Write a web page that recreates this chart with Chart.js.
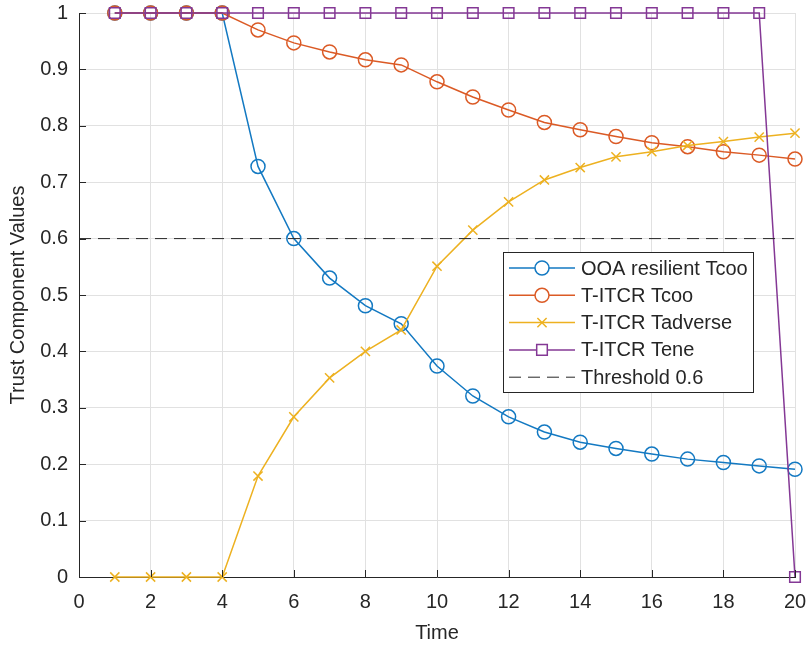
<!DOCTYPE html>
<html>
<head>
<meta charset="utf-8">
<script src="https://cdn.jsdelivr.net/npm/chart.js@4.4.0/dist/chart.umd.min.js"></script>
<style>
  html, body { margin: 0; padding: 0; background: #fff; }
</style>
</head>
<body>
<canvas id="trustChart" width="810" height="645"></canvas>
<script>
// values
const time = [1, 2, 3, 4, 5, 6, 7, 8, 9, 10, 11, 12, 13, 14, 15, 16, 17, 18, 19, 20];
const ooaTcoo = [1, 1, 1, 1, 0.728, 0.600, 0.530, 0.481, 0.449, 0.374, 0.321, 0.284, 0.257, 0.239, 0.228, 0.218, 0.209, 0.203, 0.197, 0.191];
const titcrTcoo = [1, 1, 1, 1, 0.970, 0.947, 0.931, 0.917, 0.908, 0.878, 0.851, 0.828, 0.806, 0.793, 0.781, 0.770, 0.763, 0.754, 0.748, 0.741];
const titcrTadverse = [0, 0, 0, 0, 0.179, 0.284, 0.353, 0.400, 0.438, 0.551, 0.615, 0.665, 0.704, 0.726, 0.745, 0.754, 0.765, 0.772, 0.780, 0.787];
const titcrTene = [1, 1, 1, 1, 1, 1, 1, 1, 1, 1, 1, 1, 1, 1, 1, 1, 1, 1, 1, 0];
const thresholdX = [0, 20];
const thresholdY = [0.6, 0.6];
const xTicks = [0, 2, 4, 6, 8, 10, 12, 14, 16, 18, 20];
const yTicks = [0, 0.1, 0.2, 0.3, 0.4, 0.5, 0.6, 0.7, 0.8, 0.9, 1];

const FONT = "'Liberation Sans', Arial, Helvetica, sans-serif";
const INK = '#262626';

function pts(xs, ys) {
  return xs.map((x, i) => ({ x: x, y: ys[i] }));
}

function series(label, ys, color, style, radius, order) {
  return {
    label: label,
    data: pts(time, ys),
    borderColor: color,
    backgroundColor: 'rgba(0,0,0,0)',
    borderWidth: 1.5,
    pointStyle: style,
    pointRadius: radius,
    pointBorderWidth: 1.5,
    pointBorderColor: color,
    pointBackgroundColor: 'rgba(0,0,0,0)',
    tension: 0,
    clip: false,
    order: order
  };
}

// drop the extra edge padding chart.js adds for tick labels
function noEdgePad(s) {
  s.paddingTop = 0;
  s.paddingBottom = 0;
  s.paddingLeft = 0;
  s.paddingRight = 0;
}

// MATLAB style inward tick marks on the two axes
const innerTicks = {
  id: 'innerTicks',
  afterDraw(chart) {
    const ctx = chart.ctx;
    const xs = chart.scales.x, ys = chart.scales.y;
    const a = chart.chartArea;
    ctx.save();
    ctx.strokeStyle = INK;
    ctx.lineWidth = 1;
    ctx.beginPath();
    xs.ticks.forEach(t => {
      const px = Math.round(xs.getPixelForValue(t.value)) + 0.5;
      ctx.moveTo(px, a.bottom);
      ctx.lineTo(px, a.bottom - 7);
    });
    ys.ticks.forEach(t => {
      const py = Math.round(ys.getPixelForValue(t.value)) + 0.5;
      ctx.moveTo(a.left, py);
      ctx.lineTo(a.left + 7, py);
    });
    ctx.stroke();
    ctx.restore();
  }
};

// legend box inside the axes, like MATLAB's legend
const boxLegend = {
  id: 'boxLegend',
  afterDraw(chart) {
    const ctx = chart.ctx;
    const x0 = 503, y0 = 252, w = 250, h = 140;
    ctx.save();
    ctx.fillStyle = '#fff';
    ctx.fillRect(x0, y0, w, h);
    ctx.strokeStyle = INK;
    ctx.lineWidth = 1;
    ctx.strokeRect(x0 + 0.5, y0 + 0.5, w, h);
    ctx.font = '20px ' + FONT;
    ctx.textBaseline = 'middle';
    chart.data.datasets.forEach((ds, i) => {
      const y = y0 + 16 + i * 27.3;
      ctx.strokeStyle = ds.borderColor;
      ctx.lineWidth = ds.borderWidth;
      ctx.setLineDash(ds.borderDash || []);
      ctx.beginPath();
      ctx.moveTo(x0 + 6, y);
      ctx.lineTo(x0 + 72, y);
      ctx.stroke();
      ctx.setLineDash([]);
      const cx = x0 + 39;
      ctx.beginPath();
      if (ds.pointRadius > 0) {
        if (ds.pointStyle === 'circle') {
          ctx.fillStyle = '#fff';
          ctx.arc(cx, y, ds.pointRadius, 0, Math.PI * 2);
          ctx.fill();
        } else if (ds.pointStyle === 'rect') {
          const s = ds.pointRadius * Math.SQRT1_2;
          ctx.fillStyle = '#fff';
          ctx.rect(cx - s, y - s, 2 * s, 2 * s);
          ctx.fill();
        } else if (ds.pointStyle === 'crossRot') {
          const s = ds.pointRadius * Math.SQRT1_2;
          ctx.moveTo(cx - s, y - s); ctx.lineTo(cx + s, y + s);
          ctx.moveTo(cx - s, y + s); ctx.lineTo(cx + s, y - s);
        }
        ctx.stroke();
      }
      ctx.fillStyle = INK;
      ctx.fillText(ds.label, x0 + 78, y + 1);
    });
    ctx.restore();
  }
};

const ctx = document.getElementById('trustChart').getContext('2d');
const chart = new Chart(ctx, {
  type: 'line',
  data: {
    datasets: [
      series('OOA resilient Tcoo', ooaTcoo, '#1379c2', 'circle', 7, 5),
      series('T-ITCR Tcoo', titcrTcoo, '#db5a25', 'circle', 7, 4),
      series('T-ITCR Tadverse', titcrTadverse, '#edb120', 'crossRot', 6.5, 3),
      series('T-ITCR Tene', titcrTene, '#843895', 'rect', 7.5, 2),
      {
        label: 'Threshold 0.6',
        data: pts(thresholdX, thresholdY),
        borderColor: INK,
        borderWidth: 1,
        borderDash: [12, 7],
        pointRadius: 0,
        fill: false,
        clip: false,
        order: 1
      }
    ]
  },
  options: {
    responsive: false,
    animation: false,
    layout: { padding: { top: 13, right: 15, bottom: 0, left: 0 } },
    plugins: {
      legend: { display: false },
      tooltip: { enabled: false }
    },
    scales: {
      x: {
        type: 'linear',
        min: 0,
        max: 20,
        afterBuildTicks: s => { s.ticks = xTicks.map(v => ({ value: v })); },
        afterFit: s => { s.height = 68; noEdgePad(s); },
        grid: { color: '#e1e1e1', drawTicks: false },
        border: { color: INK, width: 1 },
        ticks: { padding: 13, color: INK, font: { family: FONT, size: 20 }, maxRotation: 0 },
        title: { display: true, text: 'Time', color: INK, font: { family: FONT, size: 20 }, padding: { top: 0, bottom: 0 } }
      },
      y: {
        min: 0,
        max: 1,
        afterBuildTicks: s => { s.ticks = yTicks.map(v => ({ value: v })); },
        afterFit: s => { s.width = 79; noEdgePad(s); },
        grid: { color: '#e1e1e1', drawTicks: false },
        border: { color: INK, width: 1 },
        ticks: { padding: 11, color: INK, font: { family: FONT, size: 20 }, callback: v => String(Math.round(v * 10) / 10) },
        title: { display: true, text: 'Trust Component Values', color: INK, font: { family: FONT, size: 20 }, padding: { top: 6, bottom: 0 } }
      }
    }
  },
  plugins: [innerTicks, boxLegend]
});
</script>
</body>
</html>
